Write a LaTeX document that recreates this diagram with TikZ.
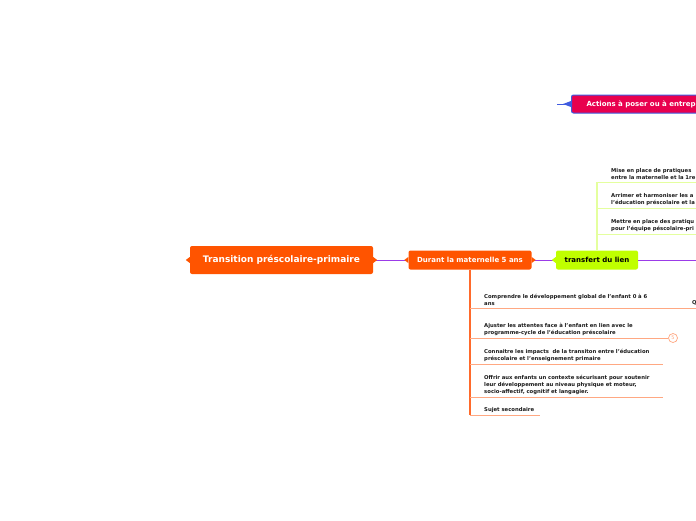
\documentclass[tikz,border=0pt]{standalone}
\usepackage{fontspec}
\setmainfont{DejaVu Sans}
\usetikzlibrary{positioning}
\definecolor{MMOrange}  {HTML}{FF5400}
\definecolor{MMOrangeMd}{HTML}{FF6A2B}
\definecolor{MMOrangeLt}{HTML}{FFA882}
\definecolor{MMPurple}  {HTML}{9B3BE8}
\definecolor{MMLime}    {HTML}{C0FF00}
\definecolor{MMLimeLt}  {HTML}{E4FF9E}
\definecolor{MMCrimson} {HTML}{E8004E}
\definecolor{MMBlue}    {HTML}{3F5BE0}
\definecolor{MMInk}     {HTML}{1A1A1A}

\begin{document}
\begin{tikzpicture}[x=1pt,y=-1pt,
    topic/.style={fill=#1,rounded corners=2pt,inner sep=0pt,
                  font=\fontsize{7}{8}\selectfont\bfseries},
    sub/.style={anchor=south west,inner xsep=0pt,inner ysep=2.5pt,
                align=left,text width=#1,text=MMInk,
                font=\fontsize{5.3}{7}\selectfont\bfseries},
    link/.style={MMPurple,line width=0.9pt},
    ospine/.style={MMOrangeMd,line width=1.4pt},
    osub/.style={MMOrangeLt,line width=0.8pt},
    lspine/.style={MMLimeLt,line width=1.4pt},
    lsub/.style={MMLimeLt,line width=0.8pt}
  ]
    \useasboundingbox (0,0) rectangle (696,520);
    \fill[white] (0,0) rectangle (696,520);
    \clip (0,0) rectangle (696,520);

    % main topics
    \node[topic=MMOrange,minimum width=183pt,minimum height=28pt,text=white,
          font=\fontsize{9}{10}\selectfont\bfseries] (root) at (281.5,260)
         {Transition préscolaire-primaire};
    \node[topic=MMOrange,minimum width=123pt,minimum height=19pt,text=white]
         (mat) at (470,260) {Durant la maternelle 5 ans};
    \node[topic=MMLime,minimum width=82pt,minimum height=19pt,text=black]
         (lien) at (597,260) {transfert du lien};
    \node[topic=MMCrimson,draw=MMBlue,line width=1pt,anchor=west,
          minimum height=18pt,inner xsep=15pt,text=white] (act) at (571,104)
         {Actions à poser ou à entreprendre};
    \coordinate (lienout) at (700,260);
    \coordinate (actin) at (557,104);

    \draw[link] (root.east) -- (mat.west);
    \draw[link] (mat.east) -- (lien.west);
    \draw[link] (lien.east) -- (lienout);

    % little pointers on the topic boxes
    \foreach \n/\a/\d/\c in {root/west/-1/MMOrange,root/east/1/MMOrange,
                             mat/west/-1/MMOrange,mat/east/1/MMOrange,
                             lien/west/-1/MMLime}
      \fill[\c] (\n.\a) ++(0,-3) -- ++(4*\d,3) -- ++(-4*\d,3) -- cycle;
    \draw[MMBlue,line width=1pt] (actin) -- (act.west);
    \fill[MMBlue] (act.west) ++(0,-3) -- ++(-8,3) -- ++(8,3) -- cycle;

    % subtopics of the kindergarten branch
    \node[sub=179pt] (s1) at (484,308)
         {Comprendre le développement global de l'enfant 0 à 6\\ans};
    \node[sub=179pt] (s2) at (484,338)
         {Ajuster les attentes face à l'enfant en lien avec le\\programme-cycle de l'éducation préscolaire};
    \node[sub=179pt] (s3) at (484,364)
         {Connaitre les impacts\ \ de la transiton entre l'éducation\\préscolaire et l'enseignement primaire};
    \node[sub=179pt] (s4) at (484,397)
         {Offrir aux enfants un contexte sécurisant pour soutenir\\leur développement au niveau physique et moteur,\\socio-affectif, cognitif et langagier.};
    \node[sub=56pt] (s5) at (484,415) {Sujet secondaire};
    \node[sub=20pt] (q1) at (692,308) {Q};
    \node[circle,draw=MMOrangeLt,line width=0.7pt,minimum size=9pt,inner sep=0pt,
          text=MMOrangeLt,font=\fontsize{5}{5}\selectfont] (n5) at (673,338) {5};

    \draw[ospine] (mat.south) -- (s5.south west -| mat);
    \foreach \s in {s1,s2,s3,s4,s5}
      \draw[osub] (\s.south west -| mat) -- (\s.south east);
    \draw[osub] (s1.south east) -- (q1.south east);
    \draw[osub] (s2.south east) -- (n5.west);

    % subtopics of the link branch
    \node[sub=100pt] (t1) at (611,182)
         {Mise en place de pratiques\\entre la maternelle et la 1re};
    \node[sub=100pt] (t2) at (611,208)
         {Arrimer et harmoniser les a\\l'éducation préscolaire et la};
    \node[sub=100pt] (t3) at (611,234)
         {Mettre en place des pratiqu\\pour l'équipe péscolaire-pri};

    \draw[lspine] (lien.north) -- (t1.south west -| lien);
    \foreach \t in {t1,t2,t3}
      \draw[lsub] (\t.south west -| lien) -- (\t.south east);
  \end{tikzpicture}
\end{document}
